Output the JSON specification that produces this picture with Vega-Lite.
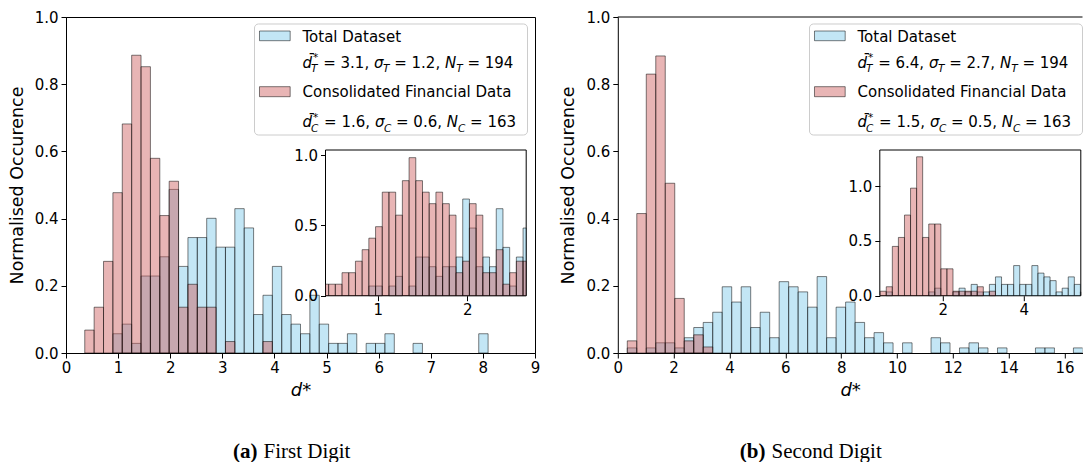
{
  "$schema": "https://vega.github.io/schema/vega-lite/v6.json",
  "background": "white",
  "padding": {"left": 7, "top": 9, "right": 0, "bottom": 0},
  "config": {
    "view": {"stroke": null},
    "axis": {
      "labelFont": "DejaVu Sans", "labelFontSize": 15, "labelColor": "black",
      "titleFont": "DejaVu Sans", "titleFontSize": 17.5, "titleFontWeight": "normal", "titleColor": "black",
      "tickColor": "black", "tickSize": 5, "tickWidth": 1, "domainColor": "black", "domainWidth": 1,
      "grid": false, "labelPadding": 3, "labelFlush": false, "labelOverlap": false
    },
    "style": {
      "plain": {"font": "DejaVu Sans", "fontSize": 15, "color": "black", "align": "left", "baseline": "alphabetic"},
      "mi": {"font": "DejaVu Sans", "fontSize": 15, "fontStyle": "italic", "color": "black", "align": "left", "baseline": "alphabetic"},
      "script": {"font": "DejaVu Sans", "fontSize": 10.5, "fontStyle": "italic", "color": "black", "align": "left", "baseline": "alphabetic"},
      "capB": {"font": "Liberation Serif", "fontSize": 21, "fontWeight": "bold", "color": "black", "align": "right", "baseline": "alphabetic"},
      "cap": {"font": "Liberation Serif", "fontSize": 21, "color": "black", "align": "left", "baseline": "alphabetic"}
    }
  },
  "datasets": {
    "a_main": [
      {"set": "T", "lo": 0.90, "hi": 1.08, "d": 0.0573}, {"set": "T", "lo": 1.08, "hi": 1.26, "d": 0.0859},
      {"set": "T", "lo": 1.26, "hi": 1.44, "d": 0.0286}, {"set": "T", "lo": 1.44, "hi": 1.62, "d": 0.2291},
      {"set": "T", "lo": 1.62, "hi": 1.80, "d": 0.2291}, {"set": "T", "lo": 1.80, "hi": 1.98, "d": 0.2864},
      {"set": "T", "lo": 1.98, "hi": 2.16, "d": 0.4868}, {"set": "T", "lo": 2.16, "hi": 2.34, "d": 0.2577},
      {"set": "T", "lo": 2.34, "hi": 2.52, "d": 0.3436}, {"set": "T", "lo": 2.52, "hi": 2.70, "d": 0.3436},
      {"set": "T", "lo": 2.70, "hi": 2.88, "d": 0.4009}, {"set": "T", "lo": 2.88, "hi": 3.06, "d": 0.3150},
      {"set": "T", "lo": 3.06, "hi": 3.24, "d": 0.3150}, {"set": "T", "lo": 3.24, "hi": 3.42, "d": 0.4296},
      {"set": "T", "lo": 3.42, "hi": 3.60, "d": 0.3723}, {"set": "T", "lo": 3.60, "hi": 3.78, "d": 0.1145},
      {"set": "T", "lo": 3.78, "hi": 3.96, "d": 0.1718}, {"set": "T", "lo": 3.96, "hi": 4.14, "d": 0.2577},
      {"set": "T", "lo": 4.14, "hi": 4.32, "d": 0.1145}, {"set": "T", "lo": 4.32, "hi": 4.50, "d": 0.0859},
      {"set": "T", "lo": 4.50, "hi": 4.68, "d": 0.0573}, {"set": "T", "lo": 4.68, "hi": 4.86, "d": 0.1718},
      {"set": "T", "lo": 4.86, "hi": 5.04, "d": 0.0859}, {"set": "T", "lo": 5.04, "hi": 5.22, "d": 0.0286},
      {"set": "T", "lo": 5.22, "hi": 5.40, "d": 0.0286}, {"set": "T", "lo": 5.40, "hi": 5.58, "d": 0.0573},
      {"set": "T", "lo": 5.76, "hi": 5.94, "d": 0.0286}, {"set": "T", "lo": 5.94, "hi": 6.12, "d": 0.0286},
      {"set": "T", "lo": 6.12, "hi": 6.30, "d": 0.0573}, {"set": "T", "lo": 6.66, "hi": 6.84, "d": 0.0286},
      {"set": "T", "lo": 7.92, "hi": 8.10, "d": 0.0573},
      {"set": "C", "lo": 0.36, "hi": 0.54, "d": 0.0682}, {"set": "C", "lo": 0.54, "hi": 0.72, "d": 0.1363},
      {"set": "C", "lo": 0.72, "hi": 0.90, "d": 0.2727}, {"set": "C", "lo": 0.90, "hi": 1.08, "d": 0.4772},
      {"set": "C", "lo": 1.08, "hi": 1.26, "d": 0.6817}, {"set": "C", "lo": 1.26, "hi": 1.44, "d": 0.8862},
      {"set": "C", "lo": 1.44, "hi": 1.62, "d": 0.8521}, {"set": "C", "lo": 1.62, "hi": 1.80, "d": 0.5794},
      {"set": "C", "lo": 1.80, "hi": 1.98, "d": 0.4090}, {"set": "C", "lo": 1.98, "hi": 2.16, "d": 0.5112},
      {"set": "C", "lo": 2.16, "hi": 2.34, "d": 0.1363}, {"set": "C", "lo": 2.34, "hi": 2.52, "d": 0.2045},
      {"set": "C", "lo": 2.52, "hi": 2.70, "d": 0.1363}, {"set": "C", "lo": 2.70, "hi": 2.88, "d": 0.1363},
      {"set": "C", "lo": 3.06, "hi": 3.24, "d": 0.0341}, {"set": "C", "lo": 3.78, "hi": 3.96, "d": 0.0341}
    ],
    "a_inset": [
      {"set": "T", "lo": 0.900, "hi": 0.975, "d": 0.0687}, {"set": "T", "lo": 0.975, "hi": 1.050, "d": 0.0687},
      {"set": "T", "lo": 1.125, "hi": 1.200, "d": 0.0687}, {"set": "T", "lo": 1.200, "hi": 1.275, "d": 0.1375},
      {"set": "T", "lo": 1.350, "hi": 1.425, "d": 0.0687}, {"set": "T", "lo": 1.425, "hi": 1.500, "d": 0.2749},
      {"set": "T", "lo": 1.500, "hi": 1.575, "d": 0.2749}, {"set": "T", "lo": 1.575, "hi": 1.650, "d": 0.2062},
      {"set": "T", "lo": 1.650, "hi": 1.725, "d": 0.1375}, {"set": "T", "lo": 1.725, "hi": 1.800, "d": 0.2062},
      {"set": "T", "lo": 1.800, "hi": 1.875, "d": 0.2062}, {"set": "T", "lo": 1.875, "hi": 1.950, "d": 0.2749},
      {"set": "T", "lo": 1.950, "hi": 2.025, "d": 0.6873}, {"set": "T", "lo": 2.025, "hi": 2.100, "d": 0.4811},
      {"set": "T", "lo": 2.100, "hi": 2.175, "d": 0.2062}, {"set": "T", "lo": 2.175, "hi": 2.250, "d": 0.2749},
      {"set": "T", "lo": 2.250, "hi": 2.325, "d": 0.2062}, {"set": "T", "lo": 2.325, "hi": 2.400, "d": 0.6186},
      {"set": "T", "lo": 2.400, "hi": 2.475, "d": 0.3436}, {"set": "T", "lo": 2.475, "hi": 2.550, "d": 0.0687},
      {"set": "T", "lo": 2.550, "hi": 2.625, "d": 0.2749}, {"set": "T", "lo": 2.625, "hi": 2.700, "d": 0.4811},
      {"set": "C", "lo": 0.375, "hi": 0.450, "d": 0.0818}, {"set": "C", "lo": 0.450, "hi": 0.525, "d": 0.0818},
      {"set": "C", "lo": 0.525, "hi": 0.600, "d": 0.0818}, {"set": "C", "lo": 0.600, "hi": 0.675, "d": 0.1636},
      {"set": "C", "lo": 0.675, "hi": 0.750, "d": 0.1636}, {"set": "C", "lo": 0.750, "hi": 0.825, "d": 0.2454},
      {"set": "C", "lo": 0.825, "hi": 0.900, "d": 0.3272}, {"set": "C", "lo": 0.900, "hi": 0.975, "d": 0.4090},
      {"set": "C", "lo": 0.975, "hi": 1.050, "d": 0.4908}, {"set": "C", "lo": 1.050, "hi": 1.125, "d": 0.7362},
      {"set": "C", "lo": 1.125, "hi": 1.200, "d": 0.7362}, {"set": "C", "lo": 1.200, "hi": 1.275, "d": 0.5726},
      {"set": "C", "lo": 1.275, "hi": 1.350, "d": 0.8180}, {"set": "C", "lo": 1.350, "hi": 1.425, "d": 0.9816},
      {"set": "C", "lo": 1.425, "hi": 1.500, "d": 0.8180}, {"set": "C", "lo": 1.500, "hi": 1.575, "d": 0.7362},
      {"set": "C", "lo": 1.575, "hi": 1.650, "d": 0.6544}, {"set": "C", "lo": 1.650, "hi": 1.725, "d": 0.7362},
      {"set": "C", "lo": 1.725, "hi": 1.800, "d": 0.6544}, {"set": "C", "lo": 1.800, "hi": 1.875, "d": 0.5726},
      {"set": "C", "lo": 1.875, "hi": 1.950, "d": 0.1636}, {"set": "C", "lo": 1.950, "hi": 2.025, "d": 0.2454},
      {"set": "C", "lo": 2.025, "hi": 2.100, "d": 0.6544}, {"set": "C", "lo": 2.100, "hi": 2.175, "d": 0.5726},
      {"set": "C", "lo": 2.175, "hi": 2.250, "d": 0.1636}, {"set": "C", "lo": 2.250, "hi": 2.325, "d": 0.1636},
      {"set": "C", "lo": 2.325, "hi": 2.400, "d": 0.3272}, {"set": "C", "lo": 2.400, "hi": 2.475, "d": 0.0818},
      {"set": "C", "lo": 2.475, "hi": 2.550, "d": 0.1636}, {"set": "C", "lo": 2.550, "hi": 2.625, "d": 0.2454},
      {"set": "C", "lo": 2.625, "hi": 2.700, "d": 0.2454}
    ],
    "b_main": [
      {"set": "T", "lo": 0.34, "hi": 0.68, "d": 0.0152}, {"set": "T", "lo": 1.02, "hi": 1.36, "d": 0.0152},
      {"set": "T", "lo": 1.36, "hi": 1.70, "d": 0.0303}, {"set": "T", "lo": 1.70, "hi": 2.04, "d": 0.0303},
      {"set": "T", "lo": 2.04, "hi": 2.38, "d": 0.0152}, {"set": "T", "lo": 2.38, "hi": 2.72, "d": 0.0455},
      {"set": "T", "lo": 2.72, "hi": 3.06, "d": 0.0758}, {"set": "T", "lo": 3.06, "hi": 3.40, "d": 0.0910},
      {"set": "T", "lo": 3.40, "hi": 3.74, "d": 0.1213}, {"set": "T", "lo": 3.74, "hi": 4.08, "d": 0.1971},
      {"set": "T", "lo": 4.08, "hi": 4.42, "d": 0.1516}, {"set": "T", "lo": 4.42, "hi": 4.76, "d": 0.1971},
      {"set": "T", "lo": 4.76, "hi": 5.10, "d": 0.0758}, {"set": "T", "lo": 5.10, "hi": 5.44, "d": 0.1213},
      {"set": "T", "lo": 5.44, "hi": 5.78, "d": 0.0455}, {"set": "T", "lo": 5.78, "hi": 6.12, "d": 0.2123},
      {"set": "T", "lo": 6.12, "hi": 6.46, "d": 0.1971}, {"set": "T", "lo": 6.46, "hi": 6.80, "d": 0.1819},
      {"set": "T", "lo": 6.80, "hi": 7.14, "d": 0.1364}, {"set": "T", "lo": 7.14, "hi": 7.48, "d": 0.2274},
      {"set": "T", "lo": 7.48, "hi": 7.82, "d": 0.0455}, {"set": "T", "lo": 7.82, "hi": 8.16, "d": 0.1364},
      {"set": "T", "lo": 8.16, "hi": 8.50, "d": 0.1516}, {"set": "T", "lo": 8.50, "hi": 8.84, "d": 0.0910},
      {"set": "T", "lo": 8.84, "hi": 9.18, "d": 0.0455}, {"set": "T", "lo": 9.18, "hi": 9.52, "d": 0.0606},
      {"set": "T", "lo": 9.52, "hi": 9.86, "d": 0.0303}, {"set": "T", "lo": 10.20, "hi": 10.54, "d": 0.0303},
      {"set": "T", "lo": 11.22, "hi": 11.56, "d": 0.0455}, {"set": "T", "lo": 11.56, "hi": 11.90, "d": 0.0303},
      {"set": "T", "lo": 12.24, "hi": 12.58, "d": 0.0152}, {"set": "T", "lo": 12.58, "hi": 12.92, "d": 0.0303},
      {"set": "T", "lo": 12.92, "hi": 13.26, "d": 0.0152}, {"set": "T", "lo": 13.60, "hi": 13.94, "d": 0.0152},
      {"set": "T", "lo": 14.96, "hi": 15.30, "d": 0.0152}, {"set": "T", "lo": 15.30, "hi": 15.64, "d": 0.0152},
      {"set": "T", "lo": 16.32, "hi": 16.66, "d": 0.0152},
      {"set": "C", "lo": 0.34, "hi": 0.68, "d": 0.0361}, {"set": "C", "lo": 0.68, "hi": 1.02, "d": 0.4150},
      {"set": "C", "lo": 1.02, "hi": 1.36, "d": 0.8300}, {"set": "C", "lo": 1.36, "hi": 1.70, "d": 0.8841},
      {"set": "C", "lo": 1.70, "hi": 2.04, "d": 0.5052}, {"set": "C", "lo": 2.04, "hi": 2.38, "d": 0.1624},
      {"set": "C", "lo": 2.38, "hi": 2.72, "d": 0.0361}, {"set": "C", "lo": 2.72, "hi": 3.06, "d": 0.0541},
      {"set": "C", "lo": 3.06, "hi": 3.40, "d": 0.0180}
    ],
    "b_inset": [
      {"set": "T", "lo": 0.60, "hi": 0.75, "d": 0.0344}, {"set": "T", "lo": 1.65, "hi": 1.80, "d": 0.0344},
      {"set": "T", "lo": 1.80, "hi": 1.95, "d": 0.0687}, {"set": "T", "lo": 2.25, "hi": 2.40, "d": 0.0344},
      {"set": "T", "lo": 2.40, "hi": 2.55, "d": 0.0687}, {"set": "T", "lo": 2.55, "hi": 2.70, "d": 0.0344},
      {"set": "T", "lo": 2.70, "hi": 2.85, "d": 0.1031}, {"set": "T", "lo": 2.85, "hi": 3.00, "d": 0.0344},
      {"set": "T", "lo": 3.00, "hi": 3.15, "d": 0.0344}, {"set": "T", "lo": 3.15, "hi": 3.30, "d": 0.1031},
      {"set": "T", "lo": 3.30, "hi": 3.45, "d": 0.1718}, {"set": "T", "lo": 3.45, "hi": 3.60, "d": 0.1031},
      {"set": "T", "lo": 3.60, "hi": 3.75, "d": 0.1031}, {"set": "T", "lo": 3.75, "hi": 3.90, "d": 0.2749},
      {"set": "T", "lo": 3.90, "hi": 4.05, "d": 0.1031}, {"set": "T", "lo": 4.05, "hi": 4.20, "d": 0.1031},
      {"set": "T", "lo": 4.20, "hi": 4.35, "d": 0.2749}, {"set": "T", "lo": 4.35, "hi": 4.50, "d": 0.2062},
      {"set": "T", "lo": 4.50, "hi": 4.65, "d": 0.1718}, {"set": "T", "lo": 4.65, "hi": 4.80, "d": 0.1375},
      {"set": "T", "lo": 4.80, "hi": 4.95, "d": 0.0344}, {"set": "T", "lo": 4.95, "hi": 5.10, "d": 0.0687},
      {"set": "T", "lo": 5.10, "hi": 5.25, "d": 0.1718}, {"set": "T", "lo": 5.25, "hi": 5.40, "d": 0.1031},
      {"set": "T", "lo": 5.40, "hi": 5.55, "d": 0.0344},
      {"set": "C", "lo": 0.45, "hi": 0.60, "d": 0.0409}, {"set": "C", "lo": 0.60, "hi": 0.75, "d": 0.0818},
      {"set": "C", "lo": 0.75, "hi": 0.90, "d": 0.4499}, {"set": "C", "lo": 0.90, "hi": 1.05, "d": 0.5317},
      {"set": "C", "lo": 1.05, "hi": 1.20, "d": 0.7362}, {"set": "C", "lo": 1.20, "hi": 1.35, "d": 0.9816},
      {"set": "C", "lo": 1.35, "hi": 1.50, "d": 1.2679}, {"set": "C", "lo": 1.50, "hi": 1.65, "d": 0.5317},
      {"set": "C", "lo": 1.65, "hi": 1.80, "d": 0.6544}, {"set": "C", "lo": 1.80, "hi": 1.95, "d": 0.6544},
      {"set": "C", "lo": 1.95, "hi": 2.10, "d": 0.2454}, {"set": "C", "lo": 2.10, "hi": 2.25, "d": 0.2454},
      {"set": "C", "lo": 2.25, "hi": 2.40, "d": 0.0409}, {"set": "C", "lo": 2.40, "hi": 2.55, "d": 0.0409},
      {"set": "C", "lo": 2.55, "hi": 2.70, "d": 0.0409}, {"set": "C", "lo": 2.70, "hi": 2.85, "d": 0.0409},
      {"set": "C", "lo": 2.85, "hi": 3.00, "d": 0.0818}, {"set": "C", "lo": 3.15, "hi": 3.30, "d": 0.0409}
    ]
  },
  "bounds": "flush",
  "spacing": 82.8,
  "hconcat": [
    {
      "width": 469,
      "height": 336,
      "view": {"stroke": "black", "strokeWidth": 1},
      "resolve": {"scale": {"x": "independent", "y": "independent"}},
      "layer": [
        {
          "data": {"values": [{}]},
          "layer": [
            {
              "data": {"name": "a_main"},
              "transform": [{"filter": "datum.set === 'T'"}],
              "mark": {"type": "rect", "fill": "#87ceeb", "fillOpacity": 0.5, "stroke": "black", "strokeOpacity": 0.5, "strokeWidth": 1},
              "encoding": {
                "x": {"field": "lo", "type": "quantitative", "scale": {"domain": [0, 9], "nice": false, "zero": false},
                      "axis": {"values": [0, 1, 2, 3, 4, 5, 6, 7, 8, 9], "title": "d*", "titleFontStyle": "italic", "titleFontSize": 18, "titlePadding": 6, "labelPadding": 2}},
                "x2": {"field": "hi"},
                "y": {"field": "d", "type": "quantitative", "scale": {"domain": [0, 1], "nice": false},
                      "axis": {"values": [0, 0.2, 0.4, 0.6, 0.8, 1.0], "format": ".1f", "title": "Normalised Occurence", "titlePadding": 8}},
                "y2": {"datum": 0}
              }
            },
            {
              "data": {"name": "a_main"},
              "transform": [{"filter": "datum.set === 'C'"}],
              "mark": {"type": "rect", "fill": "#cd5c5c", "fillOpacity": 0.45, "stroke": "black", "strokeOpacity": 0.5, "strokeWidth": 1},
              "encoding": {"x": {"field": "lo", "type": "quantitative"}, "x2": {"field": "hi"}, "y": {"field": "d", "type": "quantitative"}, "y2": {"datum": 0}}
            },
            {"mark": {"type": "rect", "fill": "white", "fillOpacity": 0.8, "stroke": "#cccccc", "strokeWidth": 1, "cornerRadius": 4}, "encoding": {"x": {"datum": 3.617}, "x2": {"datum": 8.856}, "y": {"datum": 0.9792}, "y2": {"datum": 0.6488}}},
            {"mark": {"type": "rect", "fill": "#87ceeb", "fillOpacity": 0.5, "stroke": "black", "strokeOpacity": 0.5, "strokeWidth": 1}, "encoding": {"x": {"datum": 3.713}, "x2": {"datum": 4.302}, "y": {"datum": 0.9583}, "y2": {"datum": 0.9295}}},
            {"mark": {"type": "rect", "fill": "#cd5c5c", "fillOpacity": 0.45, "stroke": "black", "strokeOpacity": 0.5, "strokeWidth": 1}, "encoding": {"x": {"datum": 3.713}, "x2": {"datum": 4.302}, "y": {"datum": 0.7926}, "y2": {"datum": 0.7628}}},
            {"mark": {"type": "text", "style": "plain", "text": "Total Dataset"}, "encoding": {"x": {"datum": 4.5385}, "y": {"datum": 0.9265}}},
            {"mark": {"type": "text", "style": "plain", "text": "Consolidated Financial Data"}, "encoding": {"x": {"datum": 4.5385}, "y": {"datum": 0.761}}},
            {"mark": {"type": "text", "style": "mi", "text": "d̄"}, "encoding": {"x": {"datum": 4.5385}, "y": {"datum": 0.8491}}},
            {"mark": {"type": "text", "style": "script", "text": "*", "dx": 10.5, "dy": -6.5}, "encoding": {"x": {"datum": 4.5385}, "y": {"datum": 0.8491}}},
            {"mark": {"type": "text", "style": "script", "text": "T", "dx": 8.5, "dy": 4.5}, "encoding": {"x": {"datum": 4.5385}, "y": {"datum": 0.8491}}},
            {"mark": {"type": "text", "style": "plain", "text": "= 3.1,", "dx": 20.7}, "encoding": {"x": {"datum": 4.5385}, "y": {"datum": 0.8491}}},
            {"mark": {"type": "text", "style": "mi", "text": "σ", "dx": 71.5}, "encoding": {"x": {"datum": 4.5385}, "y": {"datum": 0.8491}}},
            {"mark": {"type": "text", "style": "script", "text": "T", "dx": 80.5, "dy": 4.5}, "encoding": {"x": {"datum": 4.5385}, "y": {"datum": 0.8491}}},
            {"mark": {"type": "text", "style": "plain", "text": "= 1.2,", "dx": 91.7}, "encoding": {"x": {"datum": 4.5385}, "y": {"datum": 0.8491}}},
            {"mark": {"type": "text", "style": "mi", "text": "N", "dx": 142.5}, "encoding": {"x": {"datum": 4.5385}, "y": {"datum": 0.8491}}},
            {"mark": {"type": "text", "style": "script", "text": "T", "dx": 153.7, "dy": 4.5}, "encoding": {"x": {"datum": 4.5385}, "y": {"datum": 0.8491}}},
            {"mark": {"type": "text", "style": "plain", "text": "= 194", "dx": 164.9}, "encoding": {"x": {"datum": 4.5385}, "y": {"datum": 0.8491}}},
            {"mark": {"type": "text", "style": "mi", "text": "d̄"}, "encoding": {"x": {"datum": 4.5385}, "y": {"datum": 0.6717}}},
            {"mark": {"type": "text", "style": "script", "text": "*", "dx": 10.5, "dy": -6.5}, "encoding": {"x": {"datum": 4.5385}, "y": {"datum": 0.6717}}},
            {"mark": {"type": "text", "style": "script", "text": "C", "dx": 8.5, "dy": 4.5}, "encoding": {"x": {"datum": 4.5385}, "y": {"datum": 0.6717}}},
            {"mark": {"type": "text", "style": "plain", "text": "= 1.6,", "dx": 21.6}, "encoding": {"x": {"datum": 4.5385}, "y": {"datum": 0.6717}}},
            {"mark": {"type": "text", "style": "mi", "text": "σ", "dx": 72.4}, "encoding": {"x": {"datum": 4.5385}, "y": {"datum": 0.6717}}},
            {"mark": {"type": "text", "style": "script", "text": "C", "dx": 81.4, "dy": 4.5}, "encoding": {"x": {"datum": 4.5385}, "y": {"datum": 0.6717}}},
            {"mark": {"type": "text", "style": "plain", "text": "= 0.6,", "dx": 93.5}, "encoding": {"x": {"datum": 4.5385}, "y": {"datum": 0.6717}}},
            {"mark": {"type": "text", "style": "mi", "text": "N", "dx": 144.3}, "encoding": {"x": {"datum": 4.5385}, "y": {"datum": 0.6717}}},
            {"mark": {"type": "text", "style": "script", "text": "C", "dx": 155.5, "dy": 4.5}, "encoding": {"x": {"datum": 4.5385}, "y": {"datum": 0.6717}}},
            {"mark": {"type": "text", "style": "plain", "text": "= 163", "dx": 167.6}, "encoding": {"x": {"datum": 4.5385}, "y": {"datum": 0.6717}}},
            {"mark": {"type": "text", "style": "capB", "text": "(a)", "dx": -2}, "encoding": {"x": {"datum": 3.713}, "y": {"datum": -0.3125}}},
            {"mark": {"type": "text", "style": "cap", "text": "First Digit", "dx": 4}, "encoding": {"x": {"datum": 3.713}, "y": {"datum": -0.3125}}}
          ]
        },
        {
          "data": {"values": [{}]},
          "layer": [
            {
              "mark": {"type": "rect", "fill": "white", "stroke": "black", "strokeWidth": 1},
              "encoding": {
                "x": {"datum": 0.415, "type": "quantitative", "scale": {"domain": [0.415, 2.66], "range": [259.5, 460.2], "nice": false, "zero": false, "clamp": true},
                      "axis": {"orient": "bottom", "offset": -57.3, "values": [1, 2], "format": "d", "title": null, "domain": false, "labelPadding": 2, "zindex": 1}},
                "x2": {"datum": 2.66},
                "y": {"datum": 0, "type": "quantitative", "scale": {"domain": [0, 1.036], "range": [278.7, 133], "nice": false, "zero": false},
                      "axis": {"orient": "left", "offset": -259.5, "values": [0, 0.5, 1], "format": ".1f", "title": null, "domain": false, "zindex": 1}},
                "y2": {"datum": 1.036}
              }
            },
            {
              "data": {"name": "a_inset"},
              "transform": [{"filter": "datum.set === 'T'"}],
              "mark": {"type": "rect", "fill": "#87ceeb", "fillOpacity": 0.5, "stroke": "black", "strokeOpacity": 0.5, "strokeWidth": 1},
              "encoding": {"x": {"field": "lo", "type": "quantitative"}, "x2": {"field": "hi"}, "y": {"field": "d", "type": "quantitative"}, "y2": {"datum": 0}}
            },
            {
              "data": {"name": "a_inset"},
              "transform": [{"filter": "datum.set === 'C'"}],
              "mark": {"type": "rect", "fill": "#cd5c5c", "fillOpacity": 0.45, "stroke": "black", "strokeOpacity": 0.5, "strokeWidth": 1},
              "encoding": {"x": {"field": "lo", "type": "quantitative"}, "x2": {"field": "hi"}, "y": {"field": "d", "type": "quantitative"}, "y2": {"datum": 0}}
            }
          ]
        }
      ]
    },
    {
      "width": 464.7,
      "height": 336,
      "view": {"stroke": null},
      "resolve": {"scale": {"x": "independent", "y": "independent"}},
      "layer": [
        {
          "data": {"values": [{}]},
          "layer": [
            {
              "data": {"name": "b_main"},
              "transform": [{"filter": "datum.set === 'T'"}],
              "mark": {"type": "rect", "fill": "#87ceeb", "fillOpacity": 0.5, "stroke": "black", "strokeOpacity": 0.5, "strokeWidth": 1, "clip": true},
              "encoding": {
                "x": {"field": "lo", "type": "quantitative", "scale": {"domain": [0, 16.645], "nice": false, "zero": false},
                      "axis": {"values": [0, 2, 4, 6, 8, 10, 12, 14, 16], "title": "d*", "titleFontStyle": "italic", "titleFontSize": 18, "titlePadding": 6, "labelPadding": 2}},
                "x2": {"field": "hi"},
                "y": {"field": "d", "type": "quantitative", "scale": {"domain": [0, 1], "nice": false},
                      "axis": {"values": [0, 0.2, 0.4, 0.6, 0.8, 1.0], "format": ".1f", "title": "Normalised Occurence", "titlePadding": 8}},
                "y2": {"datum": 0}
              }
            },
            {
              "data": {"name": "b_main"},
              "transform": [{"filter": "datum.set === 'C'"}],
              "mark": {"type": "rect", "fill": "#cd5c5c", "fillOpacity": 0.45, "stroke": "black", "strokeOpacity": 0.5, "strokeWidth": 1, "clip": true},
              "encoding": {"x": {"field": "lo", "type": "quantitative"}, "x2": {"field": "hi"}, "y": {"field": "d", "type": "quantitative"}, "y2": {"datum": 0}}
            },
            {"mark": {"type": "rule", "color": "black", "strokeWidth": 1}, "encoding": {"y": {"datum": 1}}},
            {"mark": {"type": "rect", "fill": "white", "fillOpacity": 0.8, "stroke": "#cccccc", "strokeWidth": 1, "cornerRadius": 4}, "encoding": {"x": {"datum": 6.866}, "x2": {"datum": 16.645}, "y": {"datum": 0.9792}, "y2": {"datum": 0.6488}}},
            {"mark": {"type": "rect", "fill": "#87ceeb", "fillOpacity": 0.5, "stroke": "black", "strokeOpacity": 0.5, "strokeWidth": 1}, "encoding": {"x": {"datum": 7.045}, "x2": {"datum": 8.145}, "y": {"datum": 0.9583}, "y2": {"datum": 0.9295}}},
            {"mark": {"type": "rect", "fill": "#cd5c5c", "fillOpacity": 0.45, "stroke": "black", "strokeOpacity": 0.5, "strokeWidth": 1}, "encoding": {"x": {"datum": 7.045}, "x2": {"datum": 8.145}, "y": {"datum": 0.7926}, "y2": {"datum": 0.7628}}},
            {"mark": {"type": "text", "style": "plain", "text": "Total Dataset"}, "encoding": {"x": {"datum": 8.585}, "y": {"datum": 0.9265}}},
            {"mark": {"type": "text", "style": "plain", "text": "Consolidated Financial Data"}, "encoding": {"x": {"datum": 8.585}, "y": {"datum": 0.761}}},
            {"mark": {"type": "text", "style": "mi", "text": "d̄"}, "encoding": {"x": {"datum": 8.585}, "y": {"datum": 0.8491}}},
            {"mark": {"type": "text", "style": "script", "text": "*", "dx": 10.5, "dy": -6.5}, "encoding": {"x": {"datum": 8.585}, "y": {"datum": 0.8491}}},
            {"mark": {"type": "text", "style": "script", "text": "T", "dx": 8.5, "dy": 4.5}, "encoding": {"x": {"datum": 8.585}, "y": {"datum": 0.8491}}},
            {"mark": {"type": "text", "style": "plain", "text": "= 6.4,", "dx": 20.7}, "encoding": {"x": {"datum": 8.585}, "y": {"datum": 0.8491}}},
            {"mark": {"type": "text", "style": "mi", "text": "σ", "dx": 71.5}, "encoding": {"x": {"datum": 8.585}, "y": {"datum": 0.8491}}},
            {"mark": {"type": "text", "style": "script", "text": "T", "dx": 80.5, "dy": 4.5}, "encoding": {"x": {"datum": 8.585}, "y": {"datum": 0.8491}}},
            {"mark": {"type": "text", "style": "plain", "text": "= 2.7,", "dx": 91.7}, "encoding": {"x": {"datum": 8.585}, "y": {"datum": 0.8491}}},
            {"mark": {"type": "text", "style": "mi", "text": "N", "dx": 142.5}, "encoding": {"x": {"datum": 8.585}, "y": {"datum": 0.8491}}},
            {"mark": {"type": "text", "style": "script", "text": "T", "dx": 153.7, "dy": 4.5}, "encoding": {"x": {"datum": 8.585}, "y": {"datum": 0.8491}}},
            {"mark": {"type": "text", "style": "plain", "text": "= 194", "dx": 164.9}, "encoding": {"x": {"datum": 8.585}, "y": {"datum": 0.8491}}},
            {"mark": {"type": "text", "style": "mi", "text": "d̄"}, "encoding": {"x": {"datum": 8.585}, "y": {"datum": 0.6717}}},
            {"mark": {"type": "text", "style": "script", "text": "*", "dx": 10.5, "dy": -6.5}, "encoding": {"x": {"datum": 8.585}, "y": {"datum": 0.6717}}},
            {"mark": {"type": "text", "style": "script", "text": "C", "dx": 8.5, "dy": 4.5}, "encoding": {"x": {"datum": 8.585}, "y": {"datum": 0.6717}}},
            {"mark": {"type": "text", "style": "plain", "text": "= 1.5,", "dx": 21.6}, "encoding": {"x": {"datum": 8.585}, "y": {"datum": 0.6717}}},
            {"mark": {"type": "text", "style": "mi", "text": "σ", "dx": 72.4}, "encoding": {"x": {"datum": 8.585}, "y": {"datum": 0.6717}}},
            {"mark": {"type": "text", "style": "script", "text": "C", "dx": 81.4, "dy": 4.5}, "encoding": {"x": {"datum": 8.585}, "y": {"datum": 0.6717}}},
            {"mark": {"type": "text", "style": "plain", "text": "= 0.5,", "dx": 93.5}, "encoding": {"x": {"datum": 8.585}, "y": {"datum": 0.6717}}},
            {"mark": {"type": "text", "style": "mi", "text": "N", "dx": 144.3}, "encoding": {"x": {"datum": 8.585}, "y": {"datum": 0.6717}}},
            {"mark": {"type": "text", "style": "script", "text": "C", "dx": 155.5, "dy": 4.5}, "encoding": {"x": {"datum": 8.585}, "y": {"datum": 0.6717}}},
            {"mark": {"type": "text", "style": "plain", "text": "= 163", "dx": 167.6}, "encoding": {"x": {"datum": 8.585}, "y": {"datum": 0.6717}}},
            {"mark": {"type": "text", "style": "capB", "text": "(b)", "dx": -2}, "encoding": {"x": {"datum": 5.362}, "y": {"datum": -0.3125}}},
            {"mark": {"type": "text", "style": "cap", "text": "Second Digit", "dx": 4}, "encoding": {"x": {"datum": 5.362}, "y": {"datum": -0.3125}}}
          ]
        },
        {
          "data": {"values": [{}]},
          "layer": [
            {
              "mark": {"type": "rect", "fill": "white", "stroke": "black", "strokeWidth": 1},
              "encoding": {
                "x": {"datum": 0.44, "type": "quantitative", "scale": {"domain": [0.44, 5.41], "range": [262, 463], "nice": false, "zero": false, "clamp": true},
                      "axis": {"orient": "bottom", "offset": -57.3, "values": [2, 4], "format": "d", "title": null, "domain": false, "labelPadding": 2, "zindex": 1}},
                "x2": {"datum": 5.41},
                "y": {"datum": 0, "type": "quantitative", "scale": {"domain": [0, 1.33], "range": [278.7, 133], "nice": false, "zero": false},
                      "axis": {"orient": "left", "offset": -262, "values": [0, 0.5, 1], "format": ".1f", "title": null, "domain": false, "zindex": 1}},
                "y2": {"datum": 1.33}
              }
            },
            {
              "data": {"name": "b_inset"},
              "transform": [{"filter": "datum.set === 'T'"}],
              "mark": {"type": "rect", "fill": "#87ceeb", "fillOpacity": 0.5, "stroke": "black", "strokeOpacity": 0.5, "strokeWidth": 1},
              "encoding": {"x": {"field": "lo", "type": "quantitative"}, "x2": {"field": "hi"}, "y": {"field": "d", "type": "quantitative"}, "y2": {"datum": 0}}
            },
            {
              "data": {"name": "b_inset"},
              "transform": [{"filter": "datum.set === 'C'"}],
              "mark": {"type": "rect", "fill": "#cd5c5c", "fillOpacity": 0.45, "stroke": "black", "strokeOpacity": 0.5, "strokeWidth": 1},
              "encoding": {"x": {"field": "lo", "type": "quantitative"}, "x2": {"field": "hi"}, "y": {"field": "d", "type": "quantitative"}, "y2": {"datum": 0}}
            }
          ]
        }
      ]
    }
  ]
}
